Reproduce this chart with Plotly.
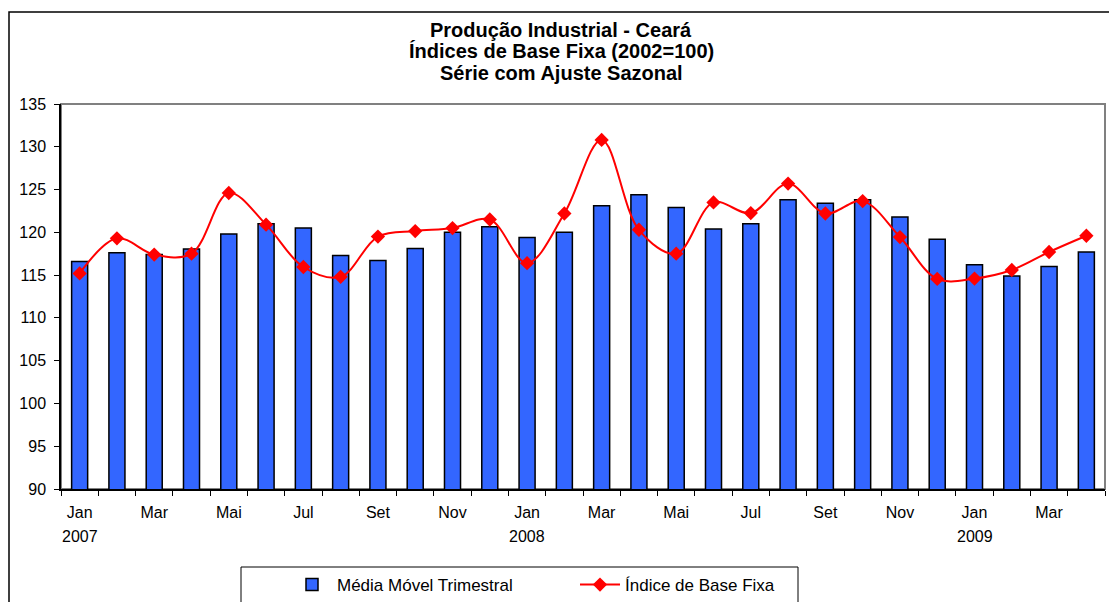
import plotly.graph_objects as go

months = ["Jan", "Fev", "Mar", "Abr", "Mai", "Jun", "Jul", "Ago", "Set", "Out", "Nov", "Dez"]
categories = [f"{m} {y}" for y in (2007, 2008) for m in months] + [f"{m} 2009" for m in months[:4]]

media_movel = [116.6, 117.6, 117.4, 118.05, 119.8, 121.0, 120.5, 117.3, 116.7, 118.1, 120.0, 120.65,
               119.4, 120.0, 123.1, 124.4, 122.9, 120.4, 121.0, 123.8, 123.4, 123.8, 121.8, 119.2,
               116.2, 114.9, 116.0, 117.7]
indice_base = [115.2, 119.3, 117.4, 117.5, 124.6, 120.9, 115.95, 114.8, 119.5, 120.15, 120.5, 121.5,
               116.4, 122.2, 130.8, 120.3, 117.5, 123.5, 122.25, 125.7, 122.2, 123.65, 119.45, 114.55,
               114.6, 115.6, 117.7, 119.6]

title_lines = ["Produção Industrial - Ceará", "Índices de Base Fixa (2002=100)", "Série com Ajuste Sazonal"]
tick_text = [c.split()[0] if i % 2 == 0 else "" for i, c in enumerate(categories)]
year_labels = {"Jan 2007": "2007", "Jan 2008": "2008", "Jan 2009": "2009"}

W, H = 1109, 602
L, R, T, B = 61, 4, 104, 113
pw, ph = W - L - R, H - T - B

def px_x(x):
    return (x - L) / pw

def px_y(y):
    return (H - B - y) / ph

font_family = "Liberation Sans, Arial, sans-serif"

fig = go.Figure()
fig.add_trace(go.Bar(
    x=categories, y=media_movel, name="Média Móvel Trimestral",
    marker=dict(color="#3366FF", line=dict(color="black", width=1.5)),
    width=0.43,
))
fig.add_trace(go.Scatter(
    x=categories, y=indice_base, name="Índice de Base Fixa",
    mode="lines+markers", line=dict(color="#FF0000", width=2, shape="spline", smoothing=1),
    marker=dict(symbol="diamond", size=11, color="#FF0000"),
))

annotations = []
for line, yc in zip(title_lines, (30, 51.5, 73)):
    annotations.append(dict(
        text=f"<b>{line}</b>", xref="paper", yref="paper", x=px_x(561), y=px_y(yc),
        xanchor="center", yanchor="middle", showarrow=False,
        font=dict(size=20, color="black", family=font_family),
    ))
for cat, yr in year_labels.items():
    annotations.append(dict(text=yr, xref="x", yref="paper", x=cat, y=px_y(536), yanchor="middle",
                            xanchor="center", showarrow=False,
                            font=dict(size=16, color="black", family=font_family)))

shapes = [
    dict(type="rect", xref="paper", yref="paper", x0=0, x1=1, y0=0, y1=1,
         line=dict(color="#808080", width=2), layer="below"),
    dict(type="path", xref="paper", yref="paper",
         path=f"M {px_x(9)} {px_y(700)} L {px_x(9)} {px_y(12)} L {px_x(1200)} {px_y(12)}",
         line=dict(color="black", width=1.5)),
    dict(type="rect", xref="paper", yref="paper",
         x0=px_x(241), x1=px_x(798), y0=px_y(567), y1=px_y(640),
         line=dict(color="black", width=1), fillcolor="rgba(0,0,0,0)"),
]

fig.update_layout(
    width=W, height=H,
    margin=dict(l=L, r=R, t=T, b=B, autoexpand=False),
    plot_bgcolor="white", paper_bgcolor="white",
    font=dict(family=font_family, size=16, color="black"),
    showlegend=True,
    legend=dict(orientation="h", x=px_x(287), y=px_y(567), xanchor="left", yanchor="top",
                borderwidth=0, bgcolor="rgba(0,0,0,0)",
                font=dict(size=17, family=font_family), entrywidth=233, itemwidth=40),
    annotations=annotations,
    shapes=shapes,
)
fig.update_xaxes(
    type="category", tickvals=categories, ticktext=tick_text, tickson="boundaries",
    ticks="outside", ticklen=5, tickcolor="black", showline=True, linecolor="black", linewidth=1.5,
    showgrid=False, tickfont=dict(size=16), range=[-0.5, 27.5], automargin=False,
    ticklabelstandoff=8, tickangle=0,
)
fig.update_yaxes(
    range=[90, 135], dtick=5, ticks="outside", ticklen=5, tickcolor="black",
    showline=True, linecolor="black", linewidth=1.5, showgrid=False, zeroline=False,
    tickfont=dict(size=16), automargin=False, ticklabelstandoff=5,
)

fig.write_html("out.html", config={"displayModeBar": False},
               post_script="document.body.style.margin='0';document.body.style.overflow='hidden';")
